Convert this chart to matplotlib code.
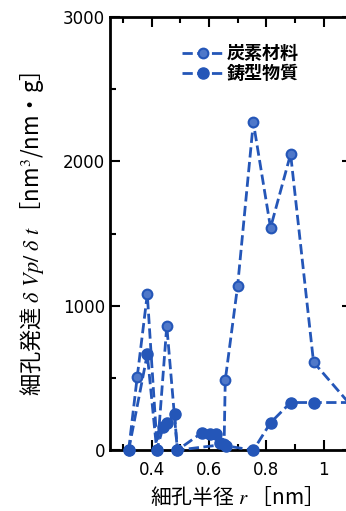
"""
Pore size distribution: carbon material vs template.
"""

import matplotlib.pyplot as plt
from matplotlib.ticker import MultipleLocator, FixedLocator

plt.rcParams['font.family'] = ['Noto Sans CJK JP', 'DejaVu Sans']
plt.rcParams['mathtext.fontset'] = 'stix'

# --- data
carbon_r = [0.32, 0.35, 0.385, 0.42, 0.453, 0.49, 0.653, 0.657, 0.70, 0.755, 0.815, 0.885, 0.965, 1.1]
carbon_v = [0, 510, 1080, 0, 860, 0, 40, 485, 1135, 2270, 1540, 2050, 610, 300]

template_r = [0.32, 0.385, 0.418, 0.44, 0.455, 0.48, 0.49, 0.575, 0.605, 0.625, 0.64, 0.66,
              0.755, 0.815, 0.885, 0.965, 1.1]
template_v = [0, 665, 0, 160, 190, 250, 0, 120, 110, 110, 50, 30,
              0, 190, 330, 330, 330]

x_ticks = [0.4, 0.6, 0.8, 1.0]
x_labels = ['0.4', '0.6', '0.8', '1']
y_ticks = [0, 1000, 2000, 3000]

blue = '#2456b8'

fig = plt.figure(figsize=(3.46, 5.11), dpi=100)
ax = fig.add_axes([0.318, 0.119, 0.70, 0.848])

ax.plot(carbon_r, carbon_v, ls='--', lw=2, color=blue, marker='o', ms=7,
        mfc='#4f78c9', mec=blue, mew=1.5, label='炭素材料', clip_on=False, zorder=3)
ax.plot(template_r, template_v, ls='--', lw=2, color=blue, marker='o', ms=8,
        mfc=blue, mec=blue, label='鋳型物質', clip_on=False, zorder=3)

ax.set_xlim(0.255, 1.1)
ax.set_ylim(0, 3000)
ax.xaxis.set_major_locator(FixedLocator(x_ticks))
ax.set_xticklabels(x_labels)
ax.xaxis.set_minor_locator(MultipleLocator(0.1))
ax.yaxis.set_major_locator(FixedLocator(y_ticks))
ax.yaxis.set_minor_locator(MultipleLocator(500))
ax.tick_params(which='both', direction='in', top=True, right=True, width=1.5)
ax.tick_params(which='major', length=7, labelsize=12)
ax.tick_params(axis='x', which='major', pad=8)
ax.tick_params(which='minor', length=4)
for s in ax.spines.values():
    s.set_linewidth(2)

for t in ax.get_xticklabels() + ax.get_yticklabels():
    t.set_family('DejaVu Sans')

ax.set_xlabel(r'細孔半径 $r$ ［nm］', fontsize=15, labelpad=4)
ax.set_ylabel(r'細孔発達 $\delta\ Vp/\ \delta\ t$ ［nm$^3$/nm・g］', fontsize=16, labelpad=12)

leg = ax.legend(loc='upper left', bbox_to_anchor=(0.23, 0.975), frameon=False,
                handlelength=2.3, handletextpad=0.2, labelspacing=0.05,
                prop={'weight': 'bold', 'size': 13})

plt.savefig('out.png', dpi=100)
